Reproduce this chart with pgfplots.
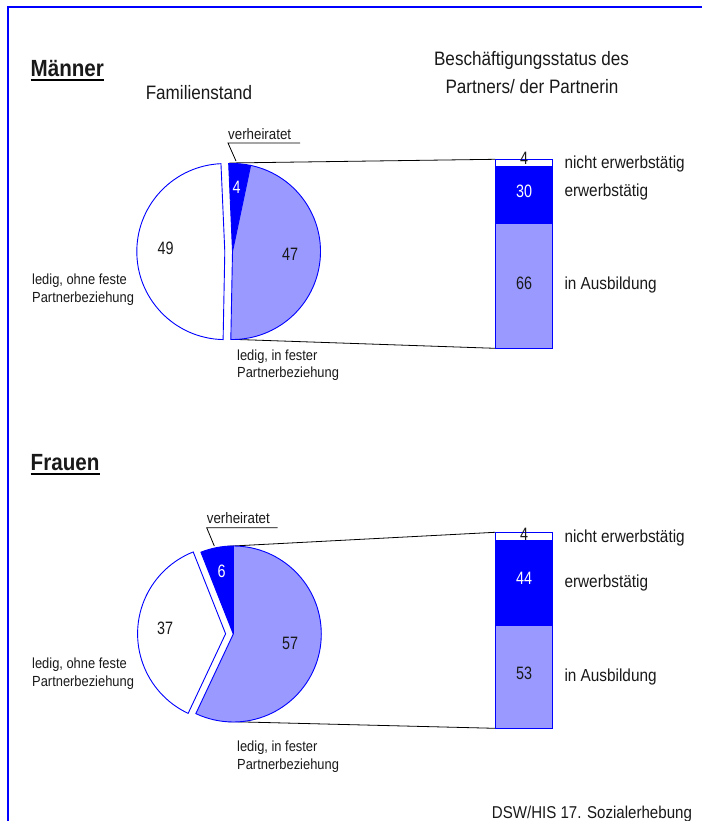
\documentclass[border=0pt]{standalone}
\usepackage{pgfplots}
\pgfplotsset{compat=1.18}
\usepackage{pgfplotstable}
\usepackage{fontspec}
\setmainfont{Liberation Sans}[FakeStretch=0.88]
\definecolor{lb}{RGB}{153,153,255}

% Familienstand (pie)
\pgfplotstableread{
part value
verheiratet 4
fest 47
ohne 49
}\menpie
\pgfplotstableread{
part value
verheiratet 6
fest 57
ohne 37
}\womenpie
% Beschaeftigungsstatus (stacked bar)
\pgfplotstableread{
x aus erw nicht
0 66 30 4
}\menbar
\pgfplotstableread{
x aus erw nicht
0 53 44 4
}\womenbar

\newcommand\getval[3]{\pgfplotstablegetelem{#2}{value}\of#1\global\let#3\pgfplotsretval}
% #1 start angle, #2 value in percent, #3 explode, #4 fill
\newcommand\pieslice[4]{%
  \pgfmathsetmacro\sA{#1}\pgfmathsetmacro\eA{#1-3.6*#2}\pgfmathsetmacro\mA{#1-1.8*#2}%
  \edef\doslice{\noexpand\filldraw[fill=#4,draw=blue,line width=0.9bp,shift={(\mA:#3)}]
    (axis cs:0,0) -- ++(\sA:88bp) arc[start angle=\sA,end angle=\eA,radius=88bp] -- cycle;}%
  \doslice}

\tikzset{t/.style={inner sep=0pt,text=black!90}}
\newcommand\fs[1]{\fontsize{#1}{#1}\selectfont}
\newcommand\nf{\fontsize{18}{18}\selectfont\addfontfeatures{FakeStretch=0.8}}

\begin{document}
\begin{tikzpicture}
\useasboundingbox (0,0) rectangle (702bp,821bp);

\begin{axis}[at={(0,0)},anchor=south west,scale only axis,width=702bp,height=821bp,
  xmin=0,xmax=702,ymin=0,ymax=821,y dir=reverse,hide axis,clip=false]
\draw[blue,line width=1.5bp] (axis cs:8,821) -- (axis cs:8,7) -- (axis cs:702,7);

% titles
\node[t,anchor=base west,font=\bfseries\fs{23.5}] (m) at (axis cs:30.5,77) {Männer};
\draw[line width=1.6bp] ([yshift=-3bp]m.base west) -- ([yshift=-3bp]m.base east);
\node[t,anchor=base west,font=\bfseries\fs{23.5}] (f) at (axis cs:30.5,470.7) {Frauen};
\draw[line width=1.6bp] ([yshift=-3bp]f.base west) -- ([yshift=-3bp]f.base east);
\node[t,anchor=base,font=\fs{19.5}] at (axis cs:199,100) {Familienstand};
\node[t,anchor=base,font=\fs{19.5}] at (axis cs:531.5,66) {Beschäftigungsstatus des};
\node[t,anchor=base,font=\fs{19.5}] at (axis cs:532,94) {Partners/ der Partnerin};

% connectors
\draw[line width=0.8bp] (axis cs:229.3,163) -- (axis cs:495,159.3);
\draw[line width=0.8bp] (axis cs:231.7,339.3) -- (axis cs:495,348.3);
\draw[line width=0.8bp] (axis cs:227,546.3) -- (axis cs:495,532.3);
\draw[line width=0.8bp] (axis cs:225,721.5) -- (axis cs:495,728.3);
\draw[line width=0.8bp] (axis cs:300,143) -- (axis cs:228,143) -- (axis cs:236,161);
\draw[line width=0.8bp] (axis cs:277.7,527.7) -- (axis cs:206.7,527.7) -- (axis cs:214.3,546);

% pie labels
\node[t,anchor=base west,font=\fs{15.2}] at (axis cs:228,139.3) {verheiratet};
\node[t,anchor=base west,font=\fs{15.2}] at (axis cs:206.7,523.3) {verheiratet};
\node[t,anchor=base west,font=\fs{14.7}] at (axis cs:32,284.5) {ledig, ohne feste};
\node[t,anchor=base west,font=\fs{14.7}] at (axis cs:32,302) {Partnerbeziehung};
\node[t,anchor=base west,font=\fs{14.7}] at (axis cs:32,668.5) {ledig, ohne feste};
\node[t,anchor=base west,font=\fs{14.7}] at (axis cs:32,686) {Partnerbeziehung};
\node[t,anchor=base west,font=\fs{14.7}] at (axis cs:237,360) {ledig, in fester};
\node[t,anchor=base west,font=\fs{14.7}] at (axis cs:237,377.5) {Partnerbeziehung};
\node[t,anchor=base west,font=\fs{14.7}] at (axis cs:237,751.5) {ledig, in fester};
\node[t,anchor=base west,font=\fs{14.7}] at (axis cs:237,769) {Partnerbeziehung};

% bar labels
\node[t,anchor=base west,font=\fs{17.5}] at (axis cs:564.3,168.3) {nicht erwerbstätig};
\node[t,anchor=base west,font=\fs{17.5}] at (axis cs:564.3,196.7) {erwerbstätig};
\node[t,anchor=base west,font=\fs{17.5}] at (axis cs:564.3,289) {in Ausbildung};
\node[t,anchor=base west,font=\fs{17.5}] at (axis cs:564.3,542.7) {nicht erwerbstätig};
\node[t,anchor=base west,font=\fs{17.5}] at (axis cs:564.3,587.3) {erwerbstätig};
\node[t,anchor=base west,font=\fs{17.5}] at (axis cs:564.3,681) {in Ausbildung};

\node[t,anchor=base west,font=\fs{17.2}] at (axis cs:491.7,818.5) {DSW/HIS 17. Sozialerhebung};
\end{axis}

% ---------- Maenner: pie ----------
\getval{\menpie}{0}{\mV}\getval{\menpie}{1}{\mF}\getval{\menpie}{2}{\mO}
\begin{axis}[at={(144.5bp,481.5bp)},anchor=south west,scale only axis,width=176bp,height=176bp,
  xmin=-1,xmax=1,ymin=-1,ymax=1,hide axis,clip=false]
\pgfmathsetmacro\mS{92.5}
\pieslice{\mS}{\mV}{0bp}{blue}
\pieslice{\mS-3.6*\mV}{\mF}{0bp}{lb}
\pieslice{\mS-3.6*(\mV+\mF)}{\mO}{7.7bp}{white}
\end{axis}

% ---------- Frauen: pie ----------
\getval{\womenpie}{0}{\fV}\getval{\womenpie}{1}{\fF}\getval{\womenpie}{2}{\fO}
\begin{axis}[at={(145.3bp,99bp)},anchor=south west,scale only axis,width=176bp,height=176bp,
  xmin=-1,xmax=1,ymin=-1,ymax=1,hide axis,clip=false]
\pgfmathsetmacro\fS{90+3.6*\fV}
\pieslice{\fS}{\fV}{0bp}{blue}
\pieslice{\fS-3.6*\fV}{\fF}{0bp}{lb}
\pieslice{\fS-3.6*(\fV+\fF)}{\fO}{7.7bp}{white}
\end{axis}

% ---------- bars ----------
\begin{axis}[at={(495bp,472.7bp)},anchor=south west,scale only axis,width=57.7bp,height=189bp,
  xmin=-0.5,xmax=0.5,ymin=0,ymax=100,hide axis,clip=false,ybar stacked,bar width=1,
  every axis plot/.append style={draw=blue,line width=0.9bp}]
\addplot[fill=lb] table[x=x,y=aus]{\menbar};
\addplot[fill=blue] table[x=x,y=erw]{\menbar};
\addplot[fill=white] table[x=x,y=nicht]{\menbar};
\end{axis}
\begin{axis}[at={(495bp,92.7bp)},anchor=south west,scale only axis,width=57.7bp,height=196bp,
  xmin=-0.5,xmax=0.5,ymin=0,ymax=101,hide axis,clip=false,ybar stacked,bar width=1,
  every axis plot/.append style={draw=blue,line width=0.9bp}]
\addplot[fill=lb] table[x=x,y=aus]{\womenbar};
\addplot[fill=blue] table[x=x,y=erw]{\womenbar};
\addplot[fill=white] table[x=x,y=nicht]{\womenbar};
\end{axis}

% ---------- value labels (on top) ----------
\begin{axis}[at={(0,0)},anchor=south west,scale only axis,width=702bp,height=821bp,
  xmin=0,xmax=702,ymin=0,ymax=821,y dir=reverse,hide axis,clip=false]
\node[t,anchor=base,font=\nf] at (axis cs:165.7,255) {49};
\node[t,anchor=base,font=\nf] at (axis cs:290,261) {47};
\node[t,anchor=base,font=\nf,text=white] at (axis cs:236.7,194) {4};
\node[t,anchor=base,font=\nf] at (axis cs:165,634.3) {37};
\node[t,anchor=base,font=\nf] at (axis cs:290,649) {57};
\node[t,anchor=base,font=\nf,text=white] at (axis cs:221.7,577.7) {6};
\node[t,anchor=base,font=\nf] at (axis cs:524,165) {4};
\node[t,anchor=base,font=\nf,text=white] at (axis cs:524,197.3) {30};
\node[t,anchor=base,font=\nf] at (axis cs:524,289.3) {66};
\node[t,anchor=base,font=\nf] at (axis cs:524,540) {4};
\node[t,anchor=base,font=\nf,text=white] at (axis cs:524,584.3) {44};
\node[t,anchor=base,font=\nf] at (axis cs:524,679.3) {53};
\end{axis}
\end{tikzpicture}
\end{document}
